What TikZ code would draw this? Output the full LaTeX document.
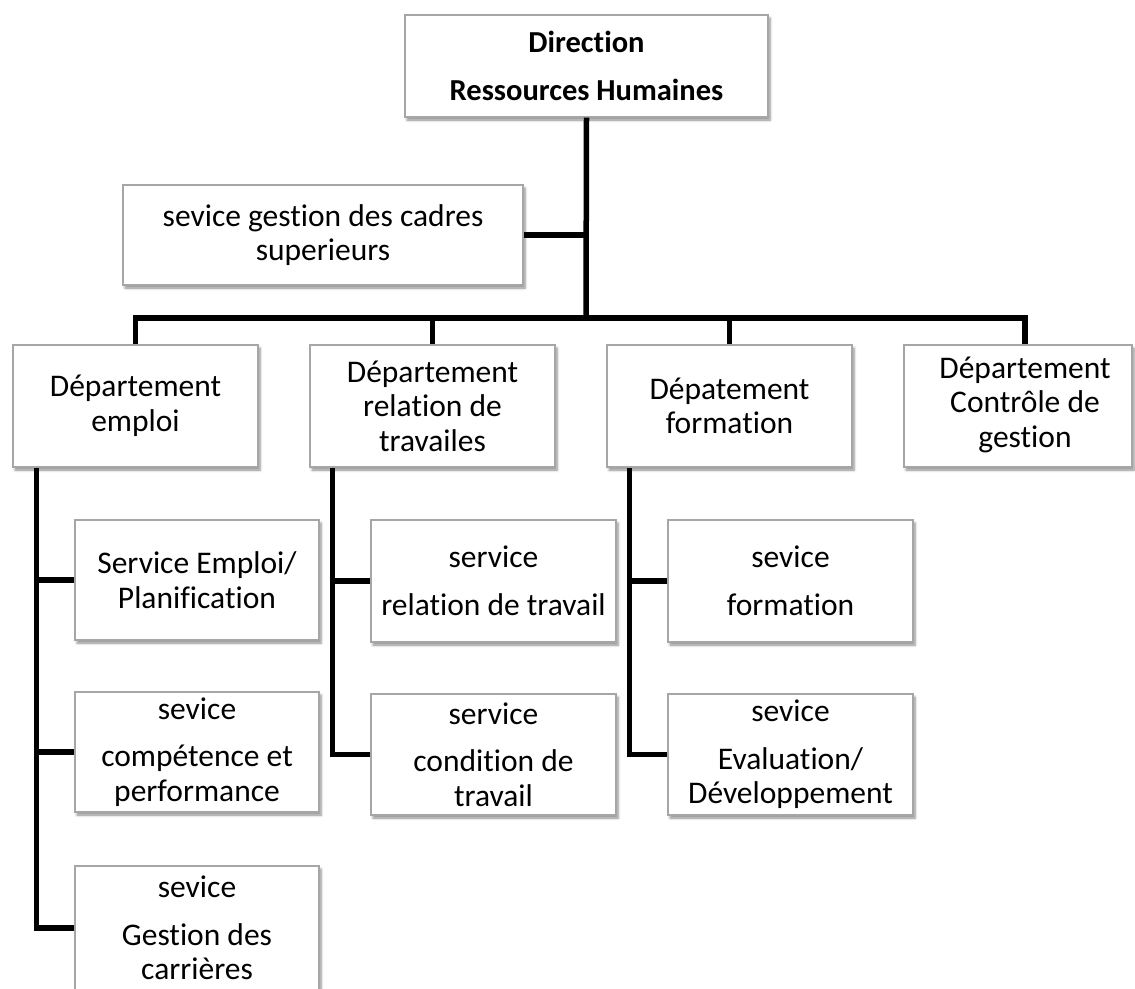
\documentclass[tikz,border=0pt]{standalone}
\usepackage{fontspec}
\setmainfont{Carlito}[Ligatures=NoCommon]
\usetikzlibrary{shadows.blur}

\tikzset{
  box/.style={draw=black!35, line width=1.2pt, fill=white, align=center,
    inner sep=0pt, minimum width=245pt, minimum height=122pt,
    font=\fontsize{31.5pt}{34.5pt}\selectfont,
    blur shadow={shadow xshift=2pt, shadow yshift=-3pt, shadow blur steps=6,
      shadow blur radius=2.5pt, shadow opacity=45}},
  link/.style={line width=5.5pt, draw=black, miter limit=10},
}

\begin{document}
\begin{tikzpicture}[x=1pt, y=-1pt]
\useasboundingbox (0,0) rectangle (1135,988);
\clip (0,0) rectangle (1135,988);

% head of the chart
\node[box, minimum width=363pt, minimum height=102pt, font=\fontsize{30.5pt}{34pt}\selectfont\bfseries]
  (top) at (586.5,66) {Direction\\[14pt]Ressources Humaines};
\node[box, minimum width=400pt, minimum height=100pt]
  (cadres) at (323,235) {sevice gestion des cadres\\superieurs};

% departments
\node[box] (emploi)    at (135.5,406) {Département\\emploi};
\node[box] (relation)  at (432.5,406) {Département\\relation de\\travailes};
\node[box] (formation) at (729.5,406) {Dépatement\\formation};
\node[box, minimum width=228pt] (controle) at (1018,406)
  {\begin{tabular}{@{\hspace{14pt}}c@{}}Département\\Contrôle de\\gestion\end{tabular}};

% services of the employment department
\node[box, minimum width=244pt, minimum height=120pt] (es1) at (197,580) {Service Emploi/\\Planification};
\node[box, minimum width=244pt, minimum height=120pt] (es2) at (197,752) {sevice\\[13pt]compétence et\\performance};
\node[box, minimum width=244pt, minimum height=124pt] (es3) at (197,928) {sevice\\[13pt]Gestion des\\carrières};

% services of the labour relations department
\node[box] (rs1) at (493.5,581) {service\\[13pt]relation de travail};
\node[box, minimum height=121pt] (rs2) at (493.5,754.5) {service\\[13pt]condition de\\travail};

% services of the training department
\node[box] (fs1) at (790.5,581) {sevice\\[13pt]formation};
\node[box, minimum height=121pt] (fs2) at (790.5,754.5) {sevice\\[13pt]Evaluation/\\Développement};

% connectors
\coordinate (bar) at (586,318);
\coordinate (ctrltop) at ([xshift=7pt]controle.north);
\draw[link] (top.south) -- (bar);
\draw[link] (cadres.east) -- (cadres.east -| top.south);
\draw[link] (emploi.north) |- (bar) -| (ctrltop);
\draw[link] (relation.north |- bar) -- (relation.north);
\draw[link] (formation.north |- bar) -- (formation.north);

\coordinate (ecol) at ([xshift=24pt]emploi.south west);
\coordinate (rcol) at ([xshift=23pt]relation.south west);
\coordinate (fcol) at ([xshift=23pt]formation.south west);

\draw[link] (ecol) |- (es3.west);
\draw[link] (ecol |- es1.west) -- (es1.west);
\draw[link] (ecol |- es2.west) -- (es2.west);

\draw[link] (rcol) |- (rs2.west);
\draw[link] (rcol |- rs1.west) -- (rs1.west);

\draw[link] (fcol) |- (fs2.west);
\draw[link] (fcol |- fs1.west) -- (fs1.west);
\end{tikzpicture}
\end{document}
